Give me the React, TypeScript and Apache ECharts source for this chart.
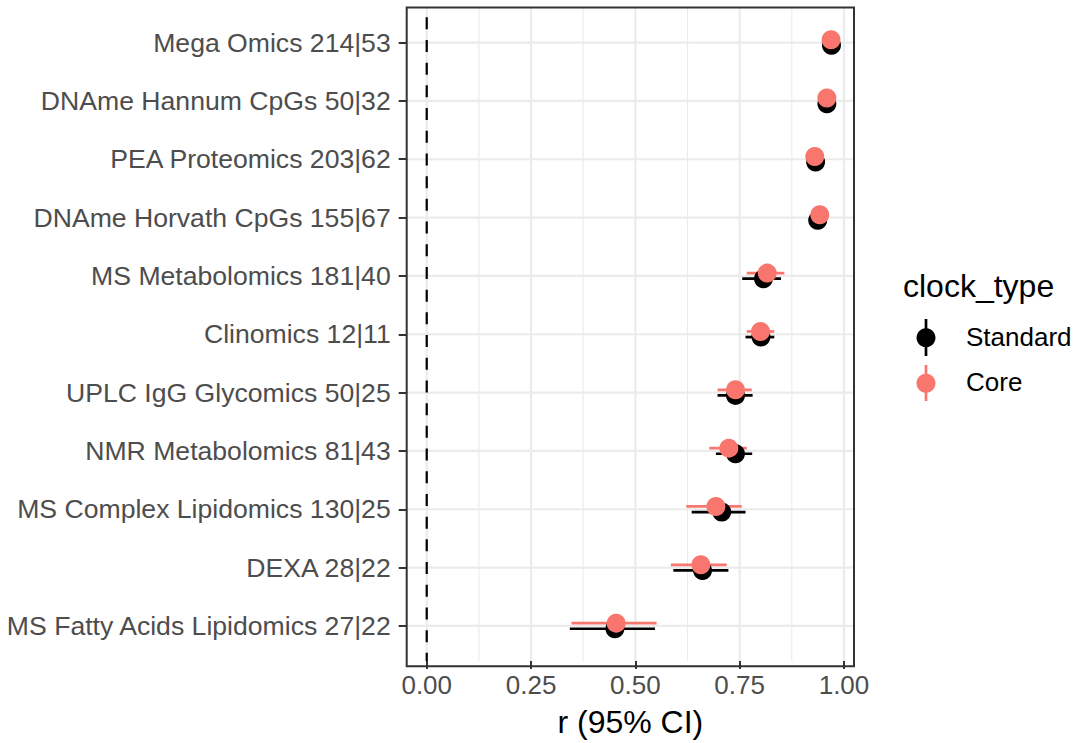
import React, { useEffect, useRef } from "react";
import * as echarts from "echarts";

const categories = [
  "Mega Omics 214|53",
  "DNAme Hannum CpGs 50|32",
  "PEA Proteomics 203|62",
  "DNAme Horvath CpGs 155|67",
  "MS Metabolomics 181|40",
  "Clinomics 12|11",
  "UPLC IgG Glycomics 50|25",
  "NMR Metabolomics 81|43",
  "MS Complex Lipidomics 130|25",
  "DEXA 28|22",
  "MS Fatty Acids Lipidomics 27|22",
];

const standardR = [0.970, 0.959, 0.932, 0.937, 0.807, 0.801, 0.740, 0.740, 0.707, 0.661, 0.451];
const standardLo = [0.966, 0.955, 0.927, 0.932, 0.756, 0.764, 0.697, 0.693, 0.635, 0.591, 0.343];
const standardHi = [0.974, 0.963, 0.937, 0.942, 0.849, 0.833, 0.781, 0.780, 0.764, 0.723, 0.547];

const coreR = [0.969, 0.959, 0.930, 0.942, 0.816, 0.800, 0.740, 0.724, 0.693, 0.657, 0.454];
const coreLo = [0.965, 0.955, 0.925, 0.937, 0.767, 0.767, 0.697, 0.677, 0.622, 0.585, 0.347];
const coreHi = [0.973, 0.963, 0.935, 0.947, 0.857, 0.833, 0.779, 0.767, 0.755, 0.719, 0.551];

const xTicks = [0, 0.25, 0.5, 0.75, 1];
const xMinorBreaks = [0.125, 0.375, 0.625, 0.875];
const refLine = [0];

const seriesNames = ["Standard", "Core"];
const FONT = "'Liberation Sans', Arial, Helvetica, sans-serif";
const STD_COLOR = "#000000";
const CORE_COLOR = "#F8766D";

const PANEL = { left: 406.7, top: 7.5, right: 854, bottom: 666.3 };
const W = 1076;
const H = 743;
const EXP = 0.1; // extra category padding (ggplot 0.6 vs echarts 0.5)

function panelYExtent(cs: any) {
  const band = cs.height / categories.length;
  return [cs.y - band * EXP, cs.y + cs.height + band * EXP];
}

function errorSeries(name: string, lo: number[], hi: number[], color: string, off: number) {
  return {
    type: "custom",
    name,
    silent: true,
    z: 3,
    data: categories.map((c, i) => [i, lo[i], hi[i]]),
    encode: { y: 0, x: [1, 2] },
    renderItem: (params: any, api: any) => {
      const i = api.value(0);
      const a = api.coord([api.value(1), i]);
      const b = api.coord([api.value(2), i]);
      return {
        type: "line",
        shape: { x1: a[0], y1: a[1] + off, x2: b[0], y2: b[1] + off },
        style: { stroke: color, lineWidth: 2.7 },
      };
    },
  };
}

export default function App() {
  const ref = useRef<HTMLDivElement>(null);
  useEffect(() => {
    if (!ref.current) return;
    const chart = echarts.init(ref.current, undefined, { renderer: "svg" });
    const bandH = (PANEL.bottom - PANEL.top) / (categories.length - 1 + 1.2);
    const gridTop = PANEL.top + bandH * EXP;
    const gridBottom = PANEL.bottom - bandH * EXP;
    const option: any = {
      animation: false,
      backgroundColor: "#ffffff",
      textStyle: { fontFamily: FONT },
      grid: {
        left: PANEL.left,
        right: W - PANEL.right,
        top: gridTop,
        bottom: H - gridBottom,
        containLabel: false,
      },
      xAxis: {
        type: "value",
        min: -0.048,
        max: 1.024,
        offset: PANEL.bottom - gridBottom,
        axisLine: { show: false, onZero: false },
        axisTick: {
          show: true,
          customValues: xTicks,
          length: 8,
          lineStyle: { color: "#333333", width: 2 },
        },
        axisLabel: {
          customValues: xTicks,
          formatter: (v: number) => v.toFixed(2),
          color: "#4D4D4D",
          fontSize: 26,
          fontFamily: FONT,
          margin: 11,
        },
        splitLine: { show: false },
        name: "r (95% CI)",
        nameLocation: "middle",
        nameGap: 45,
        nameTextStyle: { color: "#000000", fontSize: 32, fontFamily: FONT },
      },
      yAxis: {
        type: "category",
        data: categories,
        inverse: true,
        axisLine: { show: false, onZero: false },
        axisTick: {
          show: true,
          alignWithLabel: true,
          length: 8,
          lineStyle: { color: "#333333", width: 2 },
        },
        axisLabel: {
          color: "#4D4D4D",
          fontSize: 26.6,
          fontFamily: FONT,
          margin: 16,
        },
        splitLine: { show: false },
      },
      graphic: [
        {
          type: "rect",
          z: 100,
          silent: true,
          shape: {
            x: PANEL.left,
            y: PANEL.top,
            width: PANEL.right - PANEL.left,
            height: PANEL.bottom - PANEL.top,
          },
          style: { fill: "none", stroke: "#333333", lineWidth: 2 },
        },
        {
          type: "text",
          left: 903,
          top: 270,
          style: { text: "clock_type", fontSize: 32, fontFamily: FONT, fill: "#000000" },
        },
        {
          type: "line",
          shape: { x1: 926, y1: 319, x2: 926, y2: 356 },
          style: { stroke: STD_COLOR, lineWidth: 2.7 },
        },
        {
          type: "circle",
          shape: { cx: 926, cy: 337.7, r: 9.5 },
          style: { fill: STD_COLOR },
        },
        {
          type: "text",
          left: 966,
          top: 324,
          style: { text: seriesNames[0], fontSize: 26, fontFamily: FONT, fill: "#000000" },
        },
        {
          type: "line",
          shape: { x1: 926, y1: 365, x2: 926, y2: 401 },
          style: { stroke: CORE_COLOR, lineWidth: 2.7 },
        },
        {
          type: "circle",
          shape: { cx: 926, cy: 383.3, r: 9.5 },
          style: { fill: CORE_COLOR },
        },
        {
          type: "text",
          left: 966,
          top: 369,
          style: { text: seriesNames[1], fontSize: 26, fontFamily: FONT, fill: "#000000" },
        },
      ],
      series: [
        {
          type: "custom",
          name: "grid",
          silent: true,
          z: 0,
          data: [[0, 0]],
          renderItem: (params: any, api: any) => {
            const cs = params.coordSys;
            const [top, bottom] = panelYExtent(cs);
            const children: any[] = [];
            xMinorBreaks.forEach((v) => {
              const x = api.coord([v, 0])[0];
              children.push({
                type: "line",
                shape: { x1: x, y1: top, x2: x, y2: bottom },
                style: { stroke: "#EBEBEB", lineWidth: 1.1 },
              });
            });
            xTicks.forEach((v) => {
              const x = api.coord([v, 0])[0];
              children.push({
                type: "line",
                shape: { x1: x, y1: top, x2: x, y2: bottom },
                style: { stroke: "#EBEBEB", lineWidth: 2.2 },
              });
            });
            categories.forEach((c, i) => {
              const y = api.coord([0, i])[1];
              children.push({
                type: "line",
                shape: { x1: cs.x, y1: y, x2: cs.x + cs.width, y2: y },
                style: { stroke: "#EBEBEB", lineWidth: 2.2 },
              });
            });
            return { type: "group", children };
          },
        },
        {
          type: "custom",
          name: "ref",
          silent: true,
          z: 1,
          data: refLine.map((v) => [v, 0]),
          renderItem: (params: any, api: any) => {
            const cs = params.coordSys;
            const [top, bottom] = panelYExtent(cs);
            const x = api.coord([api.value(0), 0])[0];
            return {
              type: "line",
              shape: { x1: x, y1: top, x2: x, y2: bottom },
              style: { stroke: "#000000", lineWidth: 2.2, lineDash: [12, 10.7], lineDashOffset: 12.9 },
            };
          },
        },
        errorSeries("Standard bars", standardLo, standardHi, STD_COLOR, 2.8),
        errorSeries("Core bars", coreLo, coreHi, CORE_COLOR, -2.8),
        {
          type: "scatter",
          name: seriesNames[0],
          z: 4,
          symbol: "circle",
          symbolSize: 19,
          symbolOffset: [0, 2.8],
          itemStyle: { color: STD_COLOR, opacity: 1 },
          data: categories.map((c, i) => [standardR[i], c]),
        },
        {
          type: "scatter",
          name: seriesNames[1],
          z: 5,
          symbol: "circle",
          symbolSize: 19,
          symbolOffset: [0, -2.8],
          itemStyle: { color: CORE_COLOR, opacity: 1 },
          data: categories.map((c, i) => [coreR[i], c]),
        },
      ],
    };
    chart.setOption(option);
    return () => chart.dispose();
  }, []);
  return (
    <div
      ref={ref}
      style={{ position: "fixed", left: 0, top: 0, width: W, height: H, background: "#fff" }}
    />
  );
}
